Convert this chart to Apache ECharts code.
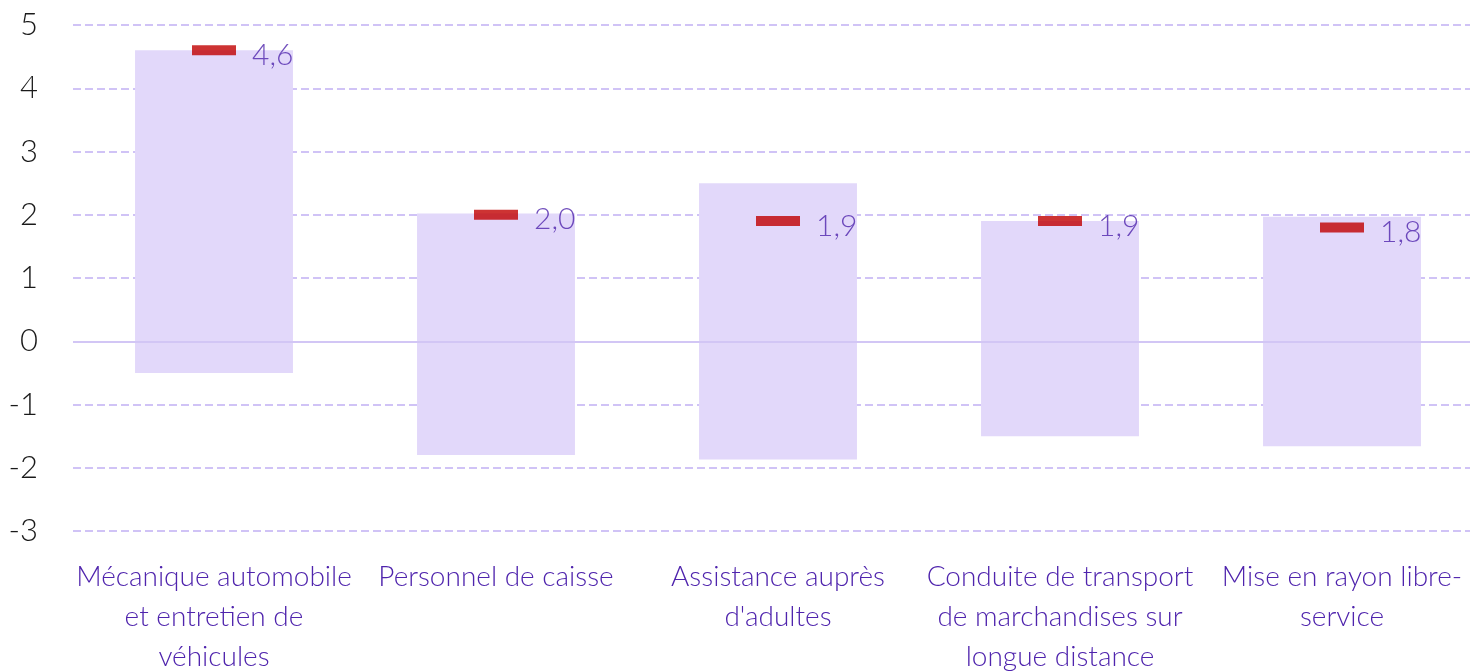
<!DOCTYPE html>
<html>
<head>
<meta charset="utf-8">
<script src="https://cdn.jsdelivr.net/npm/echarts@6/dist/echarts.min.js"></script>
<style>
    html, body { margin: 0; padding: 0; background: #fff; }
    #main { width: 1470px; height: 672px; }
</style>
</head>
<body>
<div id="main"></div>
<script>
var categories = [
    'Mécanique automobile\net entretien de\nvéhicules',
    'Personnel de caisse',
    'Assistance auprès\nd\'adultes',
    'Conduite de transport\nde marchandises sur\nlongue distance',
    'Mise en rayon libre-\nservice'
];
// bas et haut de la fourchette
var lowValues = [-0.5, -1.8, -1.87, -1.5, -1.66];
var highValues = [4.6, 2.02, 2.5, 1.9, 1.97];
// valeur centrale (trait rouge)
var midValues = [4.6, 2.0, 1.9, 1.9, 1.8];
var yTicks = [-3, -2, -1, 0, 1, 2, 3, 4, 5];

var purple = '#4f24ad';
var font = 'Lato';

var rangeData = [];
for (var i = 0; i < categories.length; i++) {
    rangeData.push([i, lowValues[i], highValues[i]]);
}
var midData = [];
for (var i = 0; i < categories.length; i++) {
    midData.push([i, midValues[i]]);
}

var myChart = echarts.init(document.getElementById('main'));
var option = {
    animation: false,
    grid: {
        left: 73,
        width: 1410,
        top: 25,
        bottom: 141,
        outerBoundsMode: 'none',
        containLabel: false
    },
    xAxis: {
        type: 'category',
        data: categories,
        axisLine: { show: false },
        axisTick: { show: false },
        splitLine: { show: false },
        axisLabel: {
            interval: 0,
            color: purple,
            fontFamily: font,
            fontWeight: 300,
            fontSize: 28,
            lineHeight: 40,
            margin: 26
        }
    },
    yAxis: {
        type: 'value',
        min: yTicks[0],
        max: yTicks[yTicks.length - 1],
        interval: 1,
        axisLine: { show: false },
        axisTick: { show: false },
        axisLabel: {
            color: '#1a1a1a',
            fontFamily: font,
            fontWeight: 300,
            fontSize: 31,
            margin: 35,
            formatter: function (v) { return String(v); }
        },
        splitLine: {
            lineStyle: {
                color: '#d0c3f6',
                width: 2,
                type: [8, 4]
            }
        }
    },
    series: [{
        type: 'custom',
        data: rangeData,
        encode: { x: 0, y: [1, 2] },
        renderItem: function (params, api) {
            var lo = api.coord([api.value(0), api.value(1)]);
            var hi = api.coord([api.value(0), api.value(2)]);
            var w = api.size([1, 0])[0] * 0.56;
            return {
                type: 'rect',
                shape: { x: lo[0] - w / 2, y: hi[1], width: w, height: lo[1] - hi[1] },
                style: { fill: '#e2d8fa' }
            };
        },
        markLine: {
            silent: true,
            symbol: 'none',
            label: { show: false },
            lineStyle: { color: '#d2c6f5', width: 2, type: 'solid' },
            data: [{ yAxis: 0 }]
        },
        z: 1
    }, {
        type: 'scatter',
        data: midData,
        symbol: 'rect',
        symbolSize: [44, 10],
        itemStyle: { color: '#c00000' },
        label: {
            show: true,
            position: 'right',
            distance: 16,
            offset: [0, 5],
            color: purple,
            fontFamily: font,
            fontWeight: 300,
            fontSize: 30,
            formatter: function (p) { return p.value[1].toFixed(1).replace('.', ','); }
        },
        z: 3
    }]
};
myChart.setOption(option);
</script>
</body>
</html>
